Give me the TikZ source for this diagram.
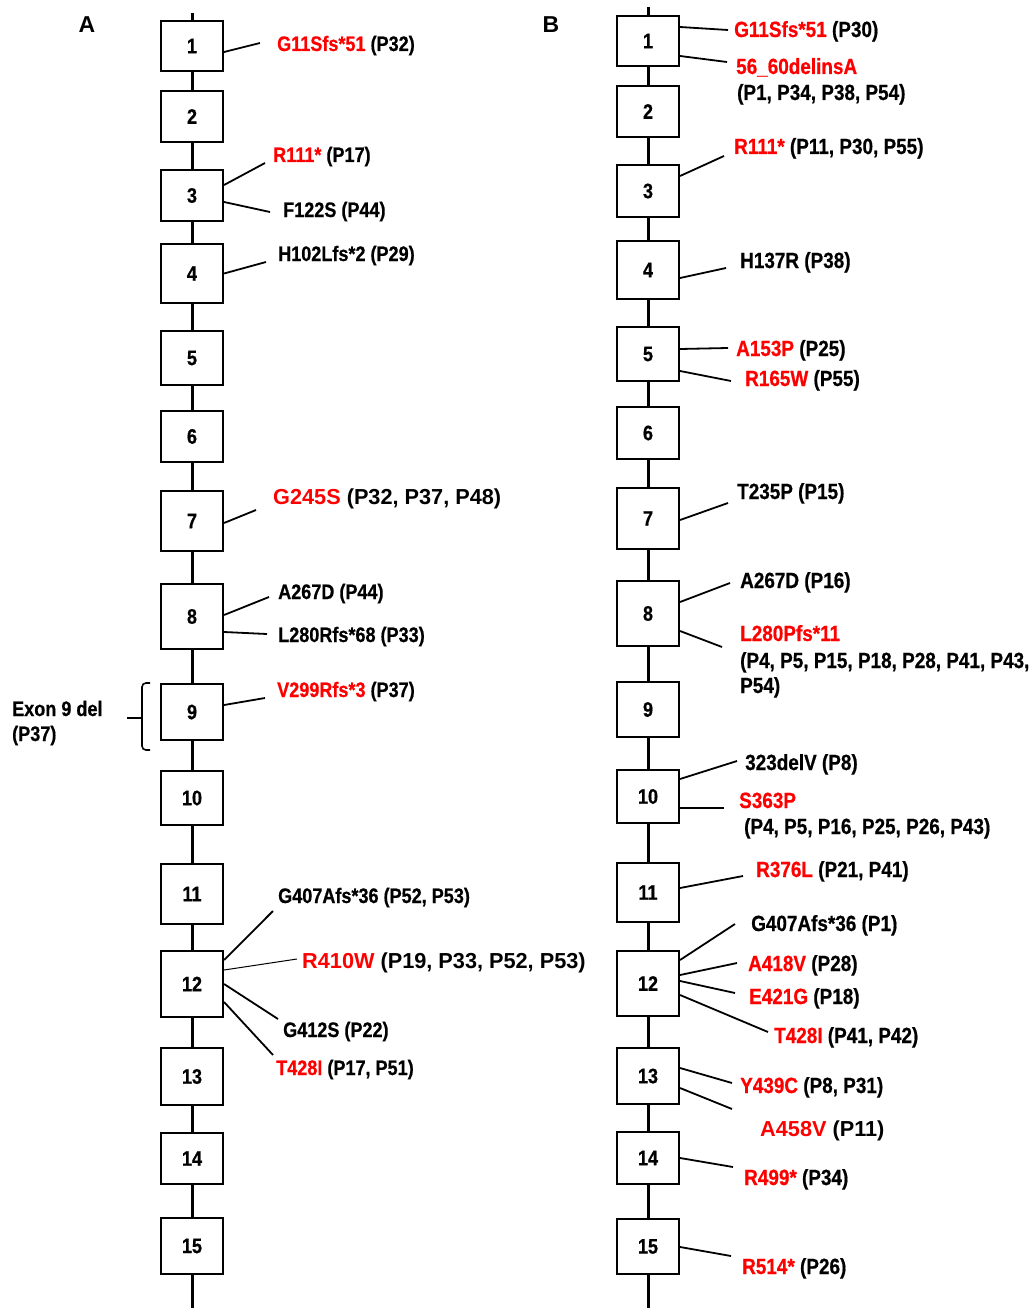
\documentclass[tikz,border=0pt]{standalone}
\usepackage{fontspec}
\setmainfont{Liberation Sans}
\newfontfamily\labfont{Liberation Sans}[FakeStretch=0.86, BoldFeatures={FakeBold=0.6}]
\definecolor{mutred}{RGB}{255,0,0}
\newcommand{\redmut}[1]{\textcolor{mutred}{#1}}
\tikzset{
    exon/.style={
        draw=black,
        line width=2.1pt,
        fill=white,
        inner sep=0pt,
        minimum width=62,
        font=\labfont\bfseries\fontsize{21}{24}\selectfont
    },
    spine/.style={draw=black, line width=3pt},
    tie/.style={draw=black, line width=1.8pt},
    thintie/.style={tie, line width=1pt},
    mut/.style={
        anchor=base west,
        inner sep=0pt,
        font=\labfont\bfseries\fontsize{21}{25}\selectfont
    },
    mutb/.style={mut, font=\labfont\bfseries\fontsize{22}{26}\selectfont},
    bigmut/.style={mut, font=\bfseries\fontsize{21.7}{26}\selectfont},
    panel/.style={inner sep=0pt, font=\bfseries\fontsize{23}{28}\selectfont},
    brk/.style={draw=black, line width=1.6pt, rounded corners=4pt}
}

\begin{document}
\begin{tikzpicture}[x=1pt, y=-1pt]
\useasboundingbox (0,0) rectangle (1033,1308);

% ---- panel A
\node[panel] (pa) at (87,25) {A};

\foreach \n/\yc/\h in {1/46/52, 2/116.5/53, 3/195.5/53, 4/273.5/61, 5/358/56,
    6/436.5/53, 7/521/62, 8/616.5/67, 9/712/58, 10/798/56, 11/894/62,
    12/984/68, 13/1076.5/59, 14/1158.5/53, 15/1246/58}
    \node[exon, minimum height=\h-2] (a\n) at (192,\yc) {\n};

\coordinate (atop) at (192,13);
\coordinate (abot) at (192,1308);
\draw[spine] (atop) -- (a1.north);
\foreach \i in {1,...,14} {
    \pgfmathtruncatemacro{\j}{\i+1}
    \draw[spine] (a\i.south) -- (a\j.north);
}
\draw[spine] (a15.south) -- (abot);

\node[mut] (m1) at (277,51) {\redmut{G11Sfs*51} (P32)};
\node[mut] (m3a) at (273,162) {\redmut{R111*} (P17)};
\node[mut] (m3b) at (283,217) {F122S (P44)};
\node[mut] (m4) at (278,261) {H102Lfs*2 (P29)};
\node[bigmut] (m7) at (273,504) {\redmut{G245S} (P32, P37, P48)};
\node[mut] (m8a) at (278,599) {A267D (P44)};
\node[mut] (m8b) at (278,642) {L280Rfs*68 (P33)};
\node[mut] (m9) at (277,697) {\redmut{V299Rfs*3} (P37)};
\node[mut] (m12a) at (278,903) {G407Afs*36 (P52, P53)};
\node[bigmut] (m12b) at (302,968) {\redmut{R410W} (P19, P33, P52, P53)};
\node[mut] (m12c) at (283,1037) {G412S (P22)};
\node[mut] (m12d) at (276,1075) {\redmut{T428I} (P17, P51)};

% exon 9 deletion
\node[mut] (del9) at (12,716) {Exon 9 del};
\node[mut] (del9p) at (12,741) {(P37)};
\draw[brk] (150,683) -- (142,683) -- (142,750) -- (150,750);
\draw[brk] (127,718) -- (142,718);

\foreach \b/\by/\l/\dx/\dy in {a1/-6/m1/-17/8, a3/10.5/m3a/-8/-1,
    a3/-6.5/m3b/-13/5, a4/0/m4/-12/-1, a7/-2/m7/-17/-6, a8/1.5/m8a/-9/2,
    a8/-15.5/m8b/-11/8, a9/7/m9/-12/-1, a12/24/m12a/-5/-8,
    a12/0/m12c/-5/18, a12/-18/m12d/-3/20}
    \draw[tie] ([yshift=\by]\b.east) -- ([xshift=\dx,yshift=\dy]\l.base west);
\draw[thintie] ([yshift=14]a12.east) -- ([xshift=-5,yshift=9]m12b.base west);

% ---- panel B
\node[panel] (pb) at (551,25) {B};

\foreach \n/\yc/\h in {1/41/52, 2/111.5/53, 3/191/54, 4/270/60, 5/354/56,
    6/433/54, 7/518.5/63, 8/613.5/67, 9/709.5/57, 10/796.5/55, 11/892.5/61,
    12/983.5/67, 13/1076/58, 14/1158/54, 15/1246.5/57}
    \node[exon, minimum height=\h-2] (b\n) at (648,\yc) {\n};

\coordinate (btop) at (648,7);
\coordinate (bbot) at (648,1308);
\draw[spine] (btop) -- (b1.north);
\foreach \i in {1,...,14} {
    \pgfmathtruncatemacro{\j}{\i+1}
    \draw[spine] (b\i.south) -- (b\j.north);
}
\draw[spine] (b15.south) -- (bbot);

\node[mutb] (n1a) at (734,37) {\redmut{G11Sfs*51} (P30)};
\node[mutb] (n1b) at (736,74) {\redmut{56\_60delinsA}};
\node[mutb] (n1c) at (737,100) {(P1, P34, P38, P54)};
\node[mutb] (n3) at (734,154) {\redmut{R111*} (P11, P30, P55)};
\node[mutb] (n4) at (740,268) {H137R (P38)};
\node[mutb] (n5a) at (736,356) {\redmut{A153P} (P25)};
\node[mutb] (n5b) at (745,386) {\redmut{R165W} (P55)};
\node[mutb] (n7) at (737,499) {T235P (P15)};
\node[mutb] (n8a) at (740,588) {A267D (P16)};
\node[mutb] (n8b) at (740,641) {\redmut{L280Pfs*11}};
\node[mutb] (n8c) at (740,668) {(P4, P5, P15, P18, P28, P41, P43,};
\node[mutb] (n8d) at (740,693) {P54)};
\node[mutb] (n10a) at (745,770) {323delV (P8)};
\node[mutb] (n10b) at (739,808) {\redmut{S363P}};
\node[mutb] (n10c) at (744,834) {(P4, P5, P16, P25, P26, P43)};
\node[mutb] (n11) at (756,877) {\redmut{R376L} (P21, P41)};
\node[mutb] (n12a) at (751,931) {G407Afs*36 (P1)};
\node[mutb] (n12b) at (748,971) {\redmut{A418V} (P28)};
\node[mutb] (n12c) at (749,1004) {\redmut{E421G} (P18)};
\node[mutb] (n12d) at (774,1043) {\redmut{T428I} (P41, P42)};
\node[mutb] (n13a) at (740,1093) {\redmut{Y439C} (P8, P31)};
\node[bigmut] (n13b) at (760,1136) {\redmut{A458V} (P11)};
\node[mutb] (n14) at (744,1185) {\redmut{R499*} (P34)};
\node[mutb] (n15) at (742,1274) {\redmut{R514*} (P26)};

\foreach \b/\by/\l/\dx/\dy in {b1/14/n1a/-6/7, b1/-15/n1b/-9/12,
    b3/15/n3/-10/-2, b4/-8/n4/-14/0, b5/5/n5a/-8/8, b5/-17/n5b/-14/5,
    b7/-1.5/n7/-9/-4, b8/11.5/n8a/-10/5, b8/-17.5/n8b/-18/-6,
    b10/17.5/n10a/-8/9, b10/-11.5/n10b/-15/0, b11/4.5/n11/-13/1,
    b12/23.5/n12a/-16/7, b12/8.5/n12b/-11/8, b12/2.5/n12c/-14/11,
    b12/-11.5/n12d/-6/11, b13/8/n13a/-8/10, b13/-12/n13b/-28/27,
    b14/0/n14/-11/18, b15/-0.5/n15/-11/18}
    \draw[tie] ([yshift=\by]\b.east) -- ([xshift=\dx,yshift=\dy]\l.base west);

\end{tikzpicture}
\end{document}
